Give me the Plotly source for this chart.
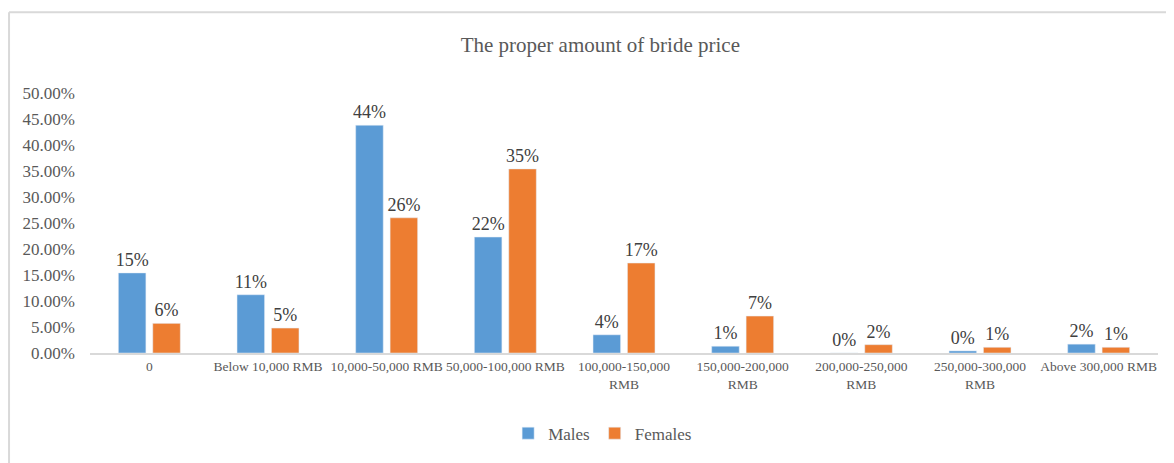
import plotly.graph_objects as go

categories = ["0", "Below 10,000 RMB", "10,000-50,000 RMB", "50,000-100,000 RMB",
              "100,000-150,000<br>RMB", "150,000-200,000<br>RMB", "200,000-250,000<br>RMB",
              "250,000-300,000<br>RMB", "Above 300,000 RMB"]
males = [0.154, 0.112, 0.438, 0.223, 0.035, 0.013, 0.0, 0.004, 0.017]
females = [0.057, 0.048, 0.260, 0.354, 0.173, 0.071, 0.016, 0.011, 0.011]
yticks = [0, 0.05, 0.10, 0.15, 0.20, 0.25, 0.30, 0.35, 0.40, 0.45, 0.50]

FONT = "Liberation Serif"
fig = go.Figure()
fig.add_bar(x=categories, y=males, name="Males", marker_color="#5b9bd5",
            texttemplate="%{y:.0%}", textposition="outside", constraintext="none",
            textfont=dict(size=18, color="#404040", family=FONT), cliponaxis=False)
fig.add_bar(x=categories, y=females, name="Females", marker_color="#ed7d31",
            texttemplate="%{y:.0%}", textposition="outside", constraintext="none",
            textfont=dict(size=18, color="#404040", family=FONT), cliponaxis=False)

fig.update_layout(
    width=1166, height=455,
    margin=dict(l=82, r=16, t=85, b=110),
    paper_bgcolor="white", plot_bgcolor="white",
    font=dict(family=FONT, color="#595959", size=15),
    barmode="group", bargap=0.42, bargroupgap=0.2,
    title=dict(text="The proper amount of bride price", x=0.508, xanchor="center",
               y=0.92, yanchor="middle", font=dict(size=21, color="#595959", family=FONT)),
    showlegend=True,
    legend=dict(orientation="h", x=0.48, xanchor="center", y=-0.31, yanchor="middle",
                font=dict(size=17, color="#595959"), itemwidth=30, traceorder="normal"),
)
fig.update_xaxes(showline=True, linecolor="#d9d9d9", linewidth=2, ticks="",
                 tickangle=0, automargin=False,
                 tickfont=dict(size=13.5, color="#595959"), showgrid=False)
fig.update_yaxes(range=[0, 0.5], tickvals=yticks, tickformat=".2%", showgrid=False,
                 zeroline=False, showline=False, tickfont=dict(size=17, color="#595959"),
                 ticklabelstandoff=14, automargin=False)
fig.add_shape(type="line", xref="paper", yref="paper", x0=-0.0758, x1=1.03,
              y0=1.311, y1=1.311, line=dict(color="#d9d9d9", width=2))
fig.add_shape(type="line", xref="paper", yref="paper", x0=-0.0758, x1=-0.0758,
              y0=1.311, y1=-0.5, line=dict(color="#d9d9d9", width=2))
fig.write_html("out.html")
